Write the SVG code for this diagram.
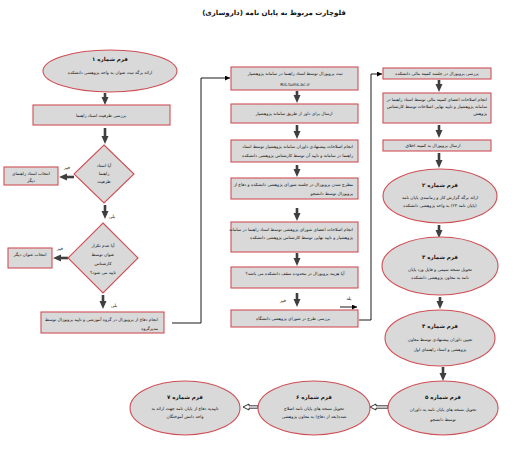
<svg xmlns="http://www.w3.org/2000/svg" width="525" height="467" viewBox="0 0 525 467">
<style>
text{font-family:"DejaVu Sans",sans-serif;fill:#111;direction:rtl;text-anchor:middle}
.t{font-size:7px;font-weight:bold}
.h{font-size:5.5px;font-weight:bold}
.b{font-size:4.3px}
.l{font-size:4.5px}
.r{text-anchor:start}
.n{fill:#d9d9d9;stroke:#cf4f55;stroke-width:1.1}
.thick{stroke:#3f3f3f;stroke-width:2.6;fill:none}
.thin{stroke:#000;stroke-width:0.9;fill:none}
.hollow{fill:#fff;stroke:#000;stroke-width:0.8}
</style>
<defs>
<marker id="bh" markerUnits="userSpaceOnUse" markerWidth="8" markerHeight="8" refX="4" refY="4" orient="auto" viewBox="0 0 8 8"><path d="M0,0.5 L8,4 L0,7.5 Z" fill="#3f3f3f"/></marker>
<marker id="th" markerUnits="userSpaceOnUse" markerWidth="5" markerHeight="5" refX="5" refY="2.5" orient="auto" viewBox="0 0 5 5"><path d="M0,0 L5,2.5 L0,5 Z" fill="#000"/></marker>
</defs>
<rect width="525" height="467" fill="#fff"/>
<text class="t" x="274" y="15">فلوچارت مربوط به پایان نامه (داروسازی)</text>

<g id="connectors">
<line class="thick" x1="105" y1="93" x2="105" y2="101" marker-end="url(#bh)"/>
<line class="thick" x1="105" y1="128" x2="105" y2="140" marker-end="url(#bh)"/>
<line class="thick" x1="74" y1="177" x2="63" y2="177" marker-end="url(#bh)"/>
<line class="thick" x1="105" y1="205" x2="105" y2="215" marker-end="url(#bh)"/>
<line class="thick" x1="68" y1="258" x2="57" y2="258" marker-end="url(#bh)"/>
<line class="thick" x1="103" y1="295" x2="103" y2="305" marker-end="url(#bh)"/>
<line class="thick" x1="297" y1="91" x2="297" y2="99" marker-end="url(#bh)"/>
<line class="thick" x1="297" y1="125" x2="297" y2="135" marker-end="url(#bh)"/>
<line class="thick" x1="297" y1="165" x2="297" y2="173" marker-end="url(#bh)"/>
<line class="thick" x1="297" y1="208" x2="297" y2="217" marker-end="url(#bh)"/>
<line class="thick" x1="297" y1="253" x2="297" y2="262" marker-end="url(#bh)"/>
<line class="thick" x1="297" y1="293" x2="297" y2="303" marker-end="url(#bh)"/>
<line class="thick" x1="439" y1="80" x2="439" y2="88" marker-end="url(#bh)"/>
<line class="thick" x1="439" y1="125" x2="439" y2="134" marker-end="url(#bh)"/>
<line class="thick" x1="439" y1="153" x2="439" y2="164" marker-end="url(#bh)"/>
<line class="thick" x1="439" y1="225" x2="439" y2="234" marker-end="url(#bh)"/>
<line class="thick" x1="440" y1="297" x2="440" y2="305" marker-end="url(#bh)"/>
<line class="thick" x1="443" y1="367" x2="443" y2="377" marker-end="url(#bh)"/>
<path class="hollow" d="M388,405.8 L376,405.8 L376,404 L370,407 L376,410 L376,408.2 L388,408.2 Z"/>
<path class="hollow" d="M258,405.8 L249,405.8 L249,404 L243,407 L249,410 L249,408.2 L258,408.2 Z"/>
<polyline class="thin" points="172,323 201,323 201,78 230,78" marker-end="url(#th)"/>
<polyline class="thin" points="359,320 371,320 371,74 382,74" marker-end="url(#th)"/>
<line class="thin" x1="340" y1="307" x2="357" y2="307" stroke-width="1.3" marker-end="url(#th)"/>
</g>

<g id="labels">
<text class="l" x="67" y="169">خیر</text>
<text class="l" x="60" y="250">خیر</text>
<text class="l" x="112" y="218">بلی</text>
<text class="l" x="114" y="307">بلی</text>
<text class="l" x="283" y="302">خیر</text>
<text class="l" x="349" y="300">بله</text>
</g>

<g id="form1">
<ellipse class="n" cx="110" cy="71" rx="67" ry="21"/>
<text class="h" x="110" y="61">فرم شماره ۱</text>
<text class="b" x="110" y="74">ارائه برگه ثبت عنوان به واحد پژوهشی دانشکده</text>
</g>
<g id="capacity">
<rect class="n" x="33" y="105" width="137" height="20"/>
<text class="b" x="101" y="117">بررسی ظرفیت استاد راهنما</text>
</g>
<g id="decision1">
<polygon class="n" points="104,145 134,174 104,203 74,174"/>
<text class="b" x="104" y="167">آیا استاد</text>
<text class="b" x="104" y="175">راهنما</text>
<text class="b" x="104" y="183">ظرفیت</text>
</g>
<g id="other-advisor">
<rect class="n" x="4" y="167" width="54" height="18"/>
<text class="b" x="31" y="175">انتخاب استاد راهنمای</text>
<text class="b" x="31" y="182">دیگر</text>
</g>
<g id="decision2">
<polygon class="n" points="103,223 138,258 103,293 68,258"/>
<text class="b" x="103" y="247">آیا عدم تکرار</text>
<text class="b" x="103" y="256">عنوان توسط</text>
<text class="b" x="103" y="265">کارشناس</text>
<text class="b" x="103" y="274">تایید می شود؟</text>
</g>
<g id="other-title">
<rect class="n" x="8" y="248" width="44" height="20"/>
<text class="b" x="30" y="256">انتخاب عنوان دیگر</text>
</g>
<g id="group-defense">
<rect class="n" x="41" y="312" width="123" height="21"/>
<text class="b r" x="158" y="321">انجام دفاع از پروپوزال در گروه آموزشی و تایید پروپوزال توسط</text>
<text class="b r" x="158" y="330">مدیرگروه</text>
</g>

<g id="m1">
<rect class="n" x="231" y="67" width="127" height="23"/>
<text class="b" x="295" y="75">ثبت پروپوزال توسط استاد راهنما در سامانه پژوهشیار</text>
<text class="b" x="295" y="86" style="direction:ltr">Ris.tums.ac.ir</text>
</g>
<g id="m2">
<rect class="n" x="231" y="104" width="127" height="19"/>
<text class="b" x="294" y="115">ارسال برای داور از طریق سامانه پژوهشیار</text>
</g>
<g id="m3">
<rect class="n" x="231" y="140" width="127" height="22"/>
<text class="b r" x="353" y="148">انجام اصلاحات پیشنهادی داوران سامانه پژوهشیار توسط استاد</text>
<text class="b r" x="353" y="157">راهنما در سامانه و تایید آن توسط کارشناس پژوهشی دانشکده</text>
</g>
<g id="m4">
<rect class="n" x="231" y="178" width="127" height="21"/>
<text class="b r" x="353" y="186">مطرح شدن پروپوزال در جلسه شورای پژوهشی دانشکده و دفاع از</text>
<text class="b r" x="353" y="195">پروپوزال توسط دانشجو</text>
</g>
<g id="m5">
<rect class="n" x="231" y="222" width="127" height="30"/>
<text class="b r" x="353" y="231">انجام اصلاحات اعضای شورای پژوهشی توسط استاد راهنما در سامانه</text>
<text class="b r" x="353" y="239">پژوهشیار و تایید نهایی توسط کارشناس پژوهشی دانشکده</text>
</g>
<g id="m6">
<rect class="n" x="231" y="267" width="127" height="21"/>
<text class="b" x="295" y="275">آیا هزینه پروپوزال در محدوده سقف دانشکده می باشد؟</text>
</g>
<g id="m7">
<rect class="n" x="231" y="310" width="127" height="17"/>
<text class="b" x="293" y="320">بررسی طرح در شورای پژوهشی دانشگاه</text>
</g>

<g id="r1">
<rect class="n" x="383" y="68" width="108" height="11"/>
<text class="b" x="437" y="75">بررسی پروپوزال در جلسه کمیته مالی دانشکده</text>
</g>
<g id="r2">
<rect class="n" x="383" y="93" width="108" height="30"/>
<text class="b r" x="487" y="101">انجام اصلاحات اعضای کمیته مالی توسط استاد راهنما در</text>
<text class="b r" x="487" y="108">سامانه پژوهشیار و تایید نهایی اصلاحات توسط کارشناس</text>
<text class="b r" x="487" y="115">پژوهش</text>
</g>
<g id="r3">
<rect class="n" x="383" y="140" width="108" height="11"/>
<text class="b" x="433" y="147">ارسال پروپوزال به کمیته اخلاق</text>
</g>
<g id="form2">
<ellipse class="n" cx="440" cy="196" rx="57" ry="27"/>
<text class="h" x="440" y="187">فرم شماره ۲</text>
<text class="b" x="440" y="199">ارائه برگه گزارش کار و زمانبندی پایان نامه</text>
<text class="b" x="440" y="207">(پایان نامه ۲۳) به واحد پژوهشی دانشکده</text>
</g>
<g id="form3">
<ellipse class="n" cx="440" cy="266" rx="58" ry="29"/>
<text class="h" x="440" y="259">فرم شماره ۳</text>
<text class="b" x="440" y="271">تحویل نسخه سیمی و فایل ورد پایان</text>
<text class="b" x="440" y="279">نامه به معاون پژوهشی دانشکده</text>
</g>
<g id="form4">
<ellipse class="n" cx="440" cy="338" rx="55" ry="28"/>
<text class="h" x="440" y="328">فرم شماره ۴</text>
<text class="b" x="440" y="341">تعیین داوران پیشنهادی توسط معاون</text>
<text class="b" x="440" y="351">پژوهشی و استاد راهنمای اول</text>
</g>
<g id="form5">
<ellipse class="n" cx="443" cy="408" rx="55" ry="27"/>
<text class="h" x="443" y="399">فرم شماره ۵</text>
<text class="b" x="443" y="411">تحویل نسخه های پایان نامه به داوران</text>
<text class="b" x="443" y="421">توسط دانشجو</text>
</g>
<g id="form6">
<ellipse class="n" cx="314" cy="408" rx="56" ry="27"/>
<text class="h" x="314" y="399">فرم شماره ۶</text>
<text class="b" x="314" y="410">تحویل نسخه های پایان نامه اصلاح</text>
<text class="b" x="314" y="418">شده(بعد از دفاع) به معاون پژوهشی</text>
</g>
<g id="form7">
<ellipse class="n" cx="185" cy="408" rx="55" ry="27"/>
<text class="h" x="185" y="399">فرم شماره ۷</text>
<text class="b" x="185" y="410">تاییدیه دفاع از پایان نامه جهت ارائه به</text>
<text class="b" x="185" y="418">واحد دانش آموختگان</text>
</g>
</svg>
